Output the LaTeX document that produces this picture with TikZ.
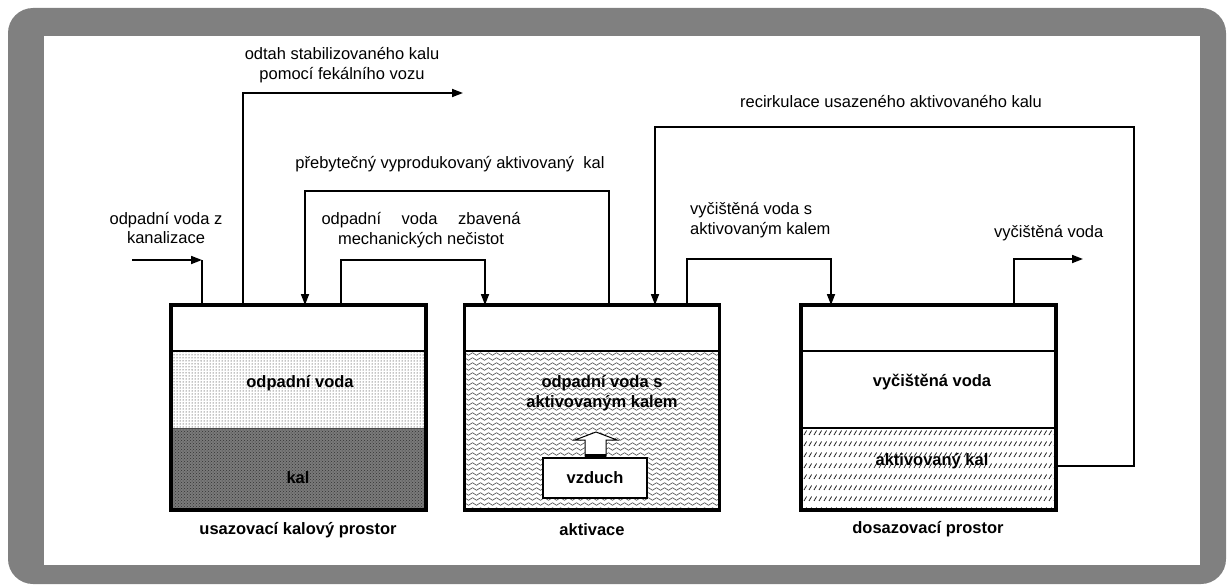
\documentclass[tikz,border=0pt]{standalone}
\usepackage{fontspec}
\setmainfont{Liberation Sans}
\usetikzlibrary{patterns,decorations.pathmorphing,arrows.meta}
\begin{document}
\begin{tikzpicture}[x=1pt,y=-1pt,
  lbl/.style={font=\fontsize{16.5}{19.5}\selectfont, inner sep=0pt, align=center},
  blbl/.style={font=\fontsize{16.5}{19.5}\selectfont\bfseries, inner sep=0pt, align=center},
  tankbox/.style={draw, line width=3.6pt, minimum width=255pt, minimum height=205pt, inner sep=0pt, outer sep=0pt},
  conn/.style={line width=1.7pt},
  arr/.style={conn, -{Triangle[length=11pt,width=8pt]}},
  divider/.style={line width=2pt},
  wave/.style={black!70, line width=0.6pt, decorate, decoration={snake, segment length=8pt, amplitude=1.3pt}},
  hatchmark/.style={black!85, line width=0.8pt}]
\useasboundingbox (0,0) rectangle (1228,586);
% frame
\fill[white] (0,0) rectangle (1228,586);
\fill[black!50, rounded corners=25pt] (8,8) rectangle (1226,584);
\fill[white] (44,36) rectangle (1200,565);

% ---------- tank 1 ----------
\fill[pattern=dots, pattern color=black] (170,351) rectangle (427,428);
\fill[black!52] (170,428) rectangle (427,510);
\fill[pattern=crosshatch dots, pattern color=black!80] (170,428) rectangle (427,510);
\draw[divider] (170,351) -- (427,351);
\draw[black!70, line width=0.8pt] (170,428) -- (427,428);
\node[tankbox] (T1) at (298.5,407.5) {};
\node[blbl] (t1w) at (300,383) {odpadní voda};
\node[blbl] (t1k) at (298,478) {kal};
\node[blbl] (c1) at (298,530) {usazovací kalový prostor};

% ---------- tank 2 ----------
\begin{scope}
\clip (465,351) rectangle (719,510);
\foreach \yy in {354,359,...,510} {\draw[wave] (462,\yy) -- (722,\yy);}
\end{scope}
\draw[divider] (465,351) -- (719,351);
\node[tankbox] (T2) at (592,407.5) {};
\node[blbl] (t2w) at (602,393) {odpadní voda s\\aktivovaným kalem};
\node[draw, fill=white, line width=1.5pt, minimum width=104pt, minimum height=40pt, inner sep=0pt,
      font=\fontsize{16.5}{19.5}\selectfont\bfseries] (air) at (595,478) {vzduch};
\draw[fill=white, line width=1pt] (585,456) -- (585,440) -- (575,440) -- (596,432) -- (617,440) -- (606,440) -- (606,456) -- cycle;
\fill (585,454) rectangle (606,459);
\node[blbl] (c2) at (592,530) {aktivace};

% ---------- tank 3 ----------
\begin{scope}
\clip (801,428) rectangle (1056,510);
\foreach \r in {0,...,7} {
  \foreach \c in {0,...,52} {
    \draw[hatchmark] ({799+\c*5},{435+\r*11}) -- ++(2.6,-4.5);
  }
}
\end{scope}
\draw[divider] (801,351) -- (1056,351);
\draw[divider] (801,428) -- (1056,428);
\node[tankbox] (T3) at (928.5,407.5) {};
\node[blbl] (t3w) at (932,382) {vyčištěná voda};
\node[blbl] (t3k) at (932,461) {aktivovaný kal};
\node[blbl] (c3) at (928,529) {dosazovací prostor};

% ---------- connection points ----------
\coordinate (inS) at (132,260);
\coordinate (inC) at (202,260);
\coordinate (t1a) at (202,305);
\coordinate (t1b) at (243,305);
\coordinate (t1c) at (305,305);
\coordinate (t1d) at (341,305);
\coordinate (t2a) at (485,305);
\coordinate (t2b) at (609,305);
\coordinate (t2c) at (655,305);
\coordinate (t2d) at (687,305);
\coordinate (t3a) at (831,305);
\coordinate (t3b) at (1014,305);
\coordinate (t3r) at (1056,466);
\coordinate (odE) at (463,93);
\coordinate (pbT) at (0,191);
\coordinate (mT) at (0,260);
\coordinate (vT) at (0,259);
\coordinate (rc) at (1134,127);
\coordinate (outE) at (1083,259);

% ---------- connectors ----------
\draw[arr] (inS) -- (inC);
\draw[conn] (inC) -- (t1a);
\draw[arr] (t1b) |- (odE);
\draw[arr] (t2b) -- (t2b |- pbT) -| (t1c);
\draw[arr] (t1d) -- (t1d |- mT) -| (t2a);
\draw[arr] (t3r) -| (rc) -| (t2c);
\draw[arr] (t2d) -- (t2d |- vT) -| (t3a);
\draw[arr] (t3b) |- (outE);

% ---------- labels ----------
\node[lbl] (Lin) at (166,228) {odpadní voda z\\kanalizace};
\node[lbl] (Lod) at (342,65) {odtah stabilizovaného kalu\\pomocí fekálního vozu};
\node[lbl] (Lpb) at (450,164) {přebytečný vyprodukovaný aktivovaný\ \ kal};
\node[lbl] (Lme) at (421,230) {\makebox[199pt][s]{odpadní voda zbavená}\\mechanických nečistot};
\node[lbl, anchor=west, align=left] (Lvs) at (690,220) {vyčištěná voda s\\aktivovaným kalem};
\node[lbl] (Lrc) at (891,102) {recirkulace usazeného aktivovaného kalu};
\node[lbl, anchor=west] (Lout) at (994,233) {vyčištěná voda};
\end{tikzpicture}
\end{document}
